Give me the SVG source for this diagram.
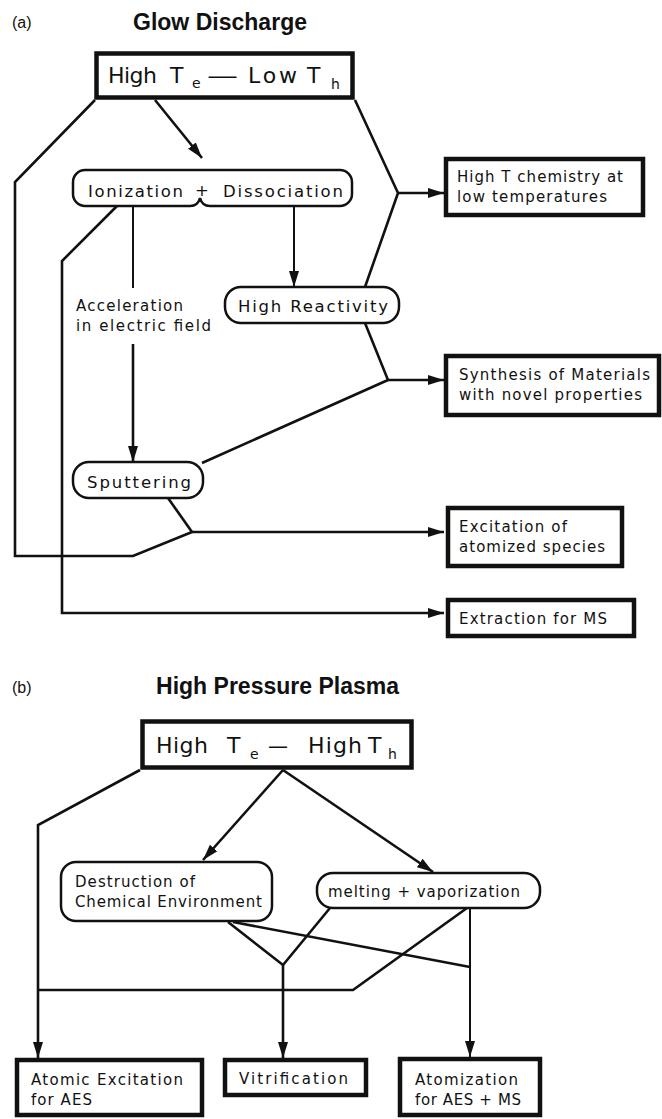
<svg xmlns="http://www.w3.org/2000/svg" width="662" height="1119" viewBox="0 0 662 1119">
<style>
text{font-family:"DejaVu Sans","Liberation Sans",sans-serif;fill:#111}
.s{font-size:15px}
.lab{font-size:16.5px}
.big{font-size:22px}
.sub{font-size:14px}
.title{font-family:"Liberation Sans",Arial,sans-serif;font-size:23px;font-weight:bold}
.pl{font-family:"Liberation Sans",Arial,sans-serif;font-size:16px}
.box{fill:#fff;stroke:#111;stroke-width:4.5}
.rb{fill:#fff;stroke:#111;stroke-width:2.5}
.c{fill:none;stroke:#111;stroke-width:2.6;stroke-linejoin:miter}
.thin{stroke-width:2}
</style>
<defs>
<marker id="ah" markerUnits="userSpaceOnUse" markerWidth="16" markerHeight="12" viewBox="0 0 16 12" refX="16" refY="6" orient="auto">
<path d="M0,1 L16,6 L0,11 Z" fill="#111"/>
</marker>
</defs>
<rect width="662" height="1119" fill="#fff"/>

<text class="pl" x="12" y="28">(a)</text>
<text class="title" x="133" y="30" textLength="174" lengthAdjust="spacing">Glow Discharge</text>
<text class="pl" x="12" y="693">(b)</text>
<text class="title" x="156" y="694" textLength="243" lengthAdjust="spacing">High Pressure Plasma</text>

<g id="connectors">
<path class="c" d="M95,100 L15,182 L15,556 L133,556 L192,532"/>
<path class="c" d="M168,498 L192,532"/>
<path class="c" d="M192,532 H444" marker-end="url(#ah)"/>
<path class="c" d="M155,100 L202,158" marker-end="url(#ah)"/>
<path class="c" d="M355,100 L398,193 L365,287"/>
<path class="c" d="M398,193 H444" marker-end="url(#ah)"/>
<path class="c" d="M117,206 L62,261 L62,613 H444" marker-end="url(#ah)"/>
<path class="c thin" d="M133,206 V288"/>
<path class="c" d="M133,344 V462" marker-end="url(#ah)"/>
<path class="c thin" d="M294,206 V287" marker-end="url(#ah)"/>
<path class="c" d="M365,323 L388,380 L202,463"/>
<path class="c" d="M388,380 H444" marker-end="url(#ah)"/>
<path class="c" d="M140,770 L38,825 V1058" marker-end="url(#ah)"/>
<path class="c" d="M283,770 L203,860" marker-end="url(#ah)"/>
<path class="c" d="M283,770 L433,872" marker-end="url(#ah)"/>
<path class="c" d="M228,922 L283,965 L330,908"/>
<path class="c" d="M283,965 V1058" marker-end="url(#ah)"/>
<path class="c" d="M233,922 L470,967"/>
<path class="c thin" d="M470,908 V1057" marker-end="url(#ah)"/>
<path class="c" d="M467,908 L353,990 H39"/>
</g>

<g id="n-top-a">
<rect class="box" x="96.5" y="53.5" width="256" height="44"/>
<text class="big" x="108" y="83" textLength="49" lengthAdjust="spacing">High</text>
<text class="big" x="170" y="83">T</text>
<text class="sub" x="192" y="88">e</text>
<text class="big" x="207" y="83" textLength="31" lengthAdjust="spacingAndGlyphs">—</text>
<text class="big" x="248" y="83" textLength="49" lengthAdjust="spacing">Low</text>
<text class="big" x="307" y="83">T</text>
<text class="sub" x="331" y="89">h</text>
</g>

<g id="n-ion">
<path class="rb" d="M85,170 H340 A12,12 0 0 1 352,182 V194 A12,12 0 0 1 340,206 H210 Q202,206 200,198 Q198,206 190,206 H85 A12,12 0 0 1 73,194 V182 A12,12 0 0 1 85,170 Z"/>
<text class="lab" x="88" y="197" textLength="95" lengthAdjust="spacing">Ionization</text>
<text class="lab" x="195" y="196">+</text>
<text class="lab" x="223" y="197" textLength="120" lengthAdjust="spacing">Dissociation</text>
</g>

<g id="n-accel">
<text class="s" x="76" y="311" textLength="107" lengthAdjust="spacing">Acceleration</text>
<text class="s" x="76" y="331" textLength="135" lengthAdjust="spacing">in electric field</text>
</g>

<g id="n-react">
<rect class="rb" x="225" y="287" width="174" height="36" rx="16"/>
<text class="lab" x="238" y="312" textLength="150" lengthAdjust="spacing">High Reactivity</text>
</g>

<g id="n-sput">
<rect class="rb" x="73" y="462" width="130" height="36" rx="16"/>
<text class="lab" x="87" y="488" textLength="104" lengthAdjust="spacing">Sputtering</text>
</g>

<g id="n-hightchem">
<rect class="box" x="446" y="159" width="197" height="56"/>
<text class="s" x="457" y="182" textLength="166" lengthAdjust="spacing">High T chemistry at</text>
<text class="s" x="457" y="202" textLength="150" lengthAdjust="spacing">low temperatures</text>
</g>

<g id="n-synth">
<rect class="box" x="446" y="356" width="213" height="59"/>
<text class="s" x="459" y="380" textLength="191" lengthAdjust="spacing">Synthesis of Materials</text>
<text class="s" x="459" y="400" textLength="183" lengthAdjust="spacing">with novel properties</text>
</g>

<g id="n-excit">
<rect class="box" x="448" y="508" width="174" height="58"/>
<text class="s" x="459" y="532" textLength="108" lengthAdjust="spacing">Excitation of</text>
<text class="s" x="459" y="552" textLength="146" lengthAdjust="spacing">atomized species</text>
</g>

<g id="n-extract">
<rect class="box" x="448" y="600" width="186" height="36"/>
<text class="s" x="459" y="624" textLength="148" lengthAdjust="spacing">Extraction for MS</text>
</g>

<g id="n-top-b">
<rect class="box" x="142.5" y="721.5" width="269" height="46"/>
<text class="big" x="156" y="753" textLength="52" lengthAdjust="spacing">High</text>
<text class="big" x="227" y="753">T</text>
<text class="sub" x="250" y="759">e</text>
<text class="big" x="268" y="753" textLength="20" lengthAdjust="spacingAndGlyphs">—</text>
<text class="big" x="308" y="753" textLength="54" lengthAdjust="spacing">High</text>
<text class="big" x="368" y="753">T</text>
<text class="sub" x="388" y="759">h</text>
</g>

<g id="n-destr">
<rect class="rb" x="61" y="862" width="211" height="59" rx="15"/>
<text class="s" x="75" y="887" textLength="120" lengthAdjust="spacing">Destruction of</text>
<text class="s" x="75" y="907" textLength="187" lengthAdjust="spacing">Chemical Environment</text>
</g>

<g id="n-melt">
<rect class="rb" x="317" y="873" width="223" height="35" rx="16"/>
<text class="s" x="328" y="897" textLength="192" lengthAdjust="spacing">melting + vaporization</text>
</g>

<g id="n-atomexc">
<rect class="box" x="17" y="1060" width="185" height="55"/>
<text class="s" x="31" y="1085" textLength="152" lengthAdjust="spacing">Atomic Excitation</text>
<text class="s" x="31" y="1105" textLength="61" lengthAdjust="spacing">for AES</text>
</g>

<g id="n-vitr">
<rect class="box" x="225" y="1060" width="141" height="35"/>
<text class="s" x="239" y="1084" textLength="109" lengthAdjust="spacing">Vitrification</text>
</g>

<g id="n-atomiz">
<rect class="box" x="400" y="1059" width="140" height="56"/>
<text class="s" x="415" y="1085" textLength="103" lengthAdjust="spacing">Atomization</text>
<text class="s" x="415" y="1105" textLength="106" lengthAdjust="spacing">for AES + MS</text>
</g>
</svg>
